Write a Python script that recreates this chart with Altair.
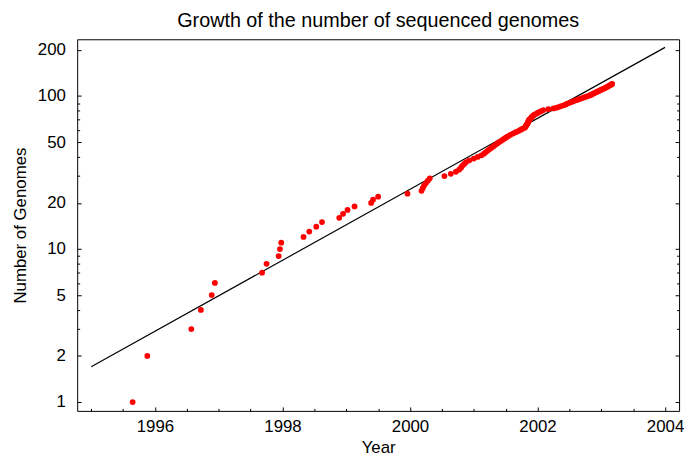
import altair as alt
import pandas as pd

# Cumulative number of sequenced genomes
years = [
    1995.65, 1995.88, 1996.57, 1996.72, 1996.89, 1996.94, 1997.68, 1997.75, 1997.94, 1997.96,
    1997.98, 1998.33, 1998.42, 1998.53, 1998.62, 1998.89, 1998.95, 1999.02, 1999.13, 1999.39,
    1999.42, 1999.50, 1999.96, 2000.18, 2000.20, 2000.22, 2000.25, 2000.28, 2000.31, 2000.54,
    2000.64, 2000.72, 2000.77, 2000.80, 2000.82, 2000.85, 2000.88, 2000.93, 2001.00, 2001.06,
    2001.12, 2001.16, 2001.19, 2001.22, 2001.25, 2001.28, 2001.31, 2001.34, 2001.37, 2001.40,
    2001.43, 2001.46, 2001.49, 2001.52, 2001.55, 2001.58, 2001.62, 2001.66, 2001.70, 2001.73,
    2001.76, 2001.80, 2001.81, 2001.82, 2001.83, 2001.84, 2001.85, 2001.855, 2001.86, 2001.87,
    2001.885, 2001.90, 2001.91, 2001.925, 2001.94, 2001.96, 2001.99, 2002.01, 2002.04, 2002.07,
    2002.09, 2002.17, 2002.25, 2002.30, 2002.34, 2002.37, 2002.41, 2002.44, 2002.46, 2002.49,
    2002.52, 2002.55, 2002.58, 2002.61, 2002.64, 2002.67, 2002.70, 2002.73, 2002.76, 2002.79,
    2002.82, 2002.84, 2002.86, 2002.88, 2002.90, 2002.92, 2002.94, 2002.96, 2002.98, 2003.00,
    2003.02, 2003.04, 2003.06, 2003.08, 2003.09, 2003.11, 2003.13, 2003.14, 2003.16, 2003.17,
]
genomes = [
    1, 2, 3, 4, 5, 6, 7, 8, 9, 10,
    11, 12, 13, 14, 15, 16, 17, 18, 19, 20,
    21, 22, 23, 24, 25, 26, 27, 28, 29, 30,
    31, 32, 33, 34, 35, 36, 37, 38, 39, 40,
    41, 42, 43, 44, 45, 46, 47, 48, 49, 50,
    51, 52, 53, 54, 55, 56, 57, 58, 59, 60,
    61, 62, 63, 64, 65, 66, 67, 68, 69, 70,
    71, 72, 73, 74, 75, 76, 77, 78, 79, 80,
    81, 82, 83, 84, 85, 86, 87, 88, 89, 90,
    91, 92, 93, 94, 95, 96, 97, 98, 99, 100,
    101, 102, 103, 104, 105, 106, 107, 108, 109, 110,
    111, 112, 113, 114, 115, 116, 117, 118, 119, 120,
]

# Exponential fit line endpoints
fit_years = [1995.0, 2004.0]
fit_genomes = [1.7, 208.0]

major_y = [1, 2, 5, 10, 20, 50, 100, 200]
minor_y = [3, 4, 6, 7, 8, 9, 30, 40, 60, 70, 80, 90]
major_x = [1996, 1998, 2000, 2002, 2004]
minor_x = [1995, 1995.5, 1996.5, 1997, 1997.5, 1998.5, 1999, 1999.5,
           2000.5, 2001, 2001.5, 2002.5, 2003, 2003.5]

pts_df = pd.DataFrame({"year": years, "genomes": genomes})
fit_df = pd.DataFrame({"year": fit_years, "genomes": fit_genomes})

FONT = "Liberation Sans"
xs = alt.Scale(domain=[1994.78, 2004.22], nice=False, zero=False)
ys = alt.Scale(type="log", domain=[0.875, 235], nice=False)

def ax(orient, values, size, labels=False, title=None, **kw):
    return alt.Axis(orient=orient, values=values, tickSize=size, offset=-size,
                    domain=False, grid=False, labels=labels, title=title,
                    tickColor="black", tickWidth=1,
                    labelFont=FONT, titleFont=FONT, labelFontSize=17, titleFontSize=17,
                    labelColor="black", titleColor="black", titleFontWeight="normal",
                    **kw)

points = alt.Chart(pts_df).mark_circle(size=34, color="#ff0000", opacity=1).encode(
    x=alt.X("year:Q", scale=xs,
            axis=ax("bottom", major_x, 4, labels=True, title="Year", format="d",
                    labelPadding=8, titlePadding=5)),
    y=alt.Y("genomes:Q", scale=ys,
            axis=ax("left", major_y, 4, labels=True, title="Number of Genomes",
                    format="d", labelPadding=12, titlePadding=8)),
)

fit = alt.Chart(fit_df).mark_line(color="black", strokeWidth=1.2).encode(
    x=alt.X("year:Q", scale=xs, axis=ax("bottom", minor_x, 2.5)),
    y=alt.Y("genomes:Q", scale=ys, axis=ax("left", minor_y, 2.5)),
)

right_major = alt.Chart(fit_df).mark_point(opacity=0).encode(
    x=alt.X("year:Q", scale=xs, axis=None),
    y=alt.Y("genomes:Q", scale=ys, axis=ax("right", major_y, 4)),
)

right_minor = alt.Chart(fit_df).mark_point(opacity=0).encode(
    x=alt.X("year:Q", scale=xs, axis=None),
    y=alt.Y("genomes:Q", scale=ys, axis=ax("right", minor_y, 2.5)),
)

chart = alt.layer(fit, points, right_major, right_minor).resolve_axis(
    x="independent", y="independent"
).properties(
    width=609,
    height=376,
    background="white",
    autosize=alt.AutoSizeParams(type="none"),
    padding={"left": 70, "top": 29, "right": 7, "bottom": 44},
    title=alt.TitleParams("Growth of the number of sequenced genomes", fontSize=20,
                          font=FONT, fontWeight="normal", anchor="middle",
                          color="black", offset=8),
).configure_view(
    stroke="black", strokeWidth=1
)

chart.save("out.html", embed_options={"renderer": "svg", "actions": False})
